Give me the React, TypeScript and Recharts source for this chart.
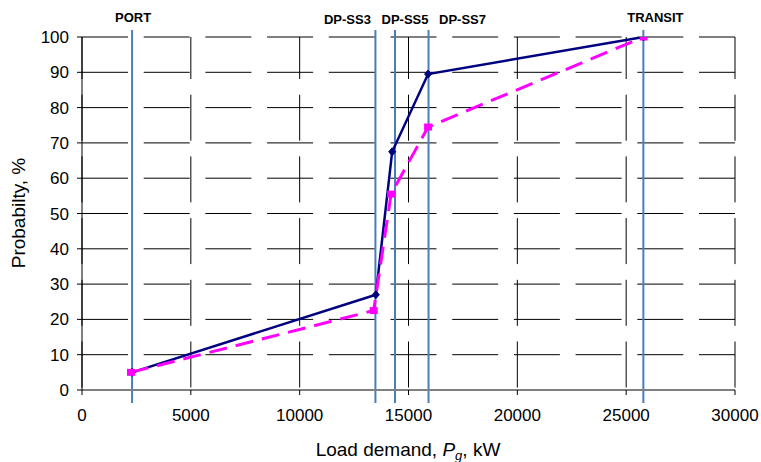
import React from 'react';
import { LineChart, Line, XAxis, YAxis, CartesianGrid, ReferenceLine } from 'recharts';

// ---- data ----
const loadKW_A = [2300, 13500, 14250, 15900, 25800];
const probability_A = [5, 27, 67.5, 89.5, 100];
const loadKW_B = [2250, 13400, 14200, 15900, 25800];
const probability_B = [5, 22.5, 55.5, 74.5, 100];
const modeNames = ['PORT', 'DP-SS3', 'DP-SS5', 'DP-SS7', 'TRANSIT'];
const modeKW = [2300, 13480, 14380, 15920, 25790];
const xTicks = [0, 5000, 10000, 15000, 20000, 25000, 30000];
const yTicks = [0, 10, 20, 30, 40, 50, 60, 70, 80, 90, 100];

const seriesA = loadKW_A.map((x, i) => ({ x, p: probability_A[i] }));
const seriesB = loadKW_B.map((x, i) => ({ x, p: probability_B[i] }));

// ---- styles ----
const FONT = '"Liberation Sans", Arial, sans-serif';
const labelDx = [1, -28, 10, 34, 12];
const labelBaseline = [22, 24, 24, 24, 22];

const Diamond = (props: any) => {
  const { cx, cy, index } = props;
  if (cx == null || cy == null) return <g key={`d${index}`} />;
  return (
    <path
      key={`d${index}`}
      d={`M${cx},${cy - 4}L${cx + 3.5},${cy}L${cx},${cy + 4}L${cx - 3.5},${cy}Z`}
      fill="#000080"
      stroke="#000080"
    />
  );
};

const Square = (props: any) => {
  const { cx, cy, index } = props;
  if (cx == null || cy == null) return <g key={`s${index}`} />;
  return <rect key={`s${index}`} x={cx - 4} y={cy - 3.5} width={8} height={7} fill="#FF00FF" />;
};

export default function App() {
  return (
    <div>
      <style>{'body{margin:0}'}</style>
      <LineChart width={761} height={462} margin={{ top: 37, right: 26, bottom: 42, left: 22 }}>
        <CartesianGrid stroke="#000" strokeWidth={1} strokeDasharray="46 15.7" vertical={false} />
        <CartesianGrid
          stroke="#000"
          strokeWidth={1}
          strokeDasharray="46 15.7"
          strokeDashoffset={4}
          horizontal={false}
        />
        <XAxis
          type="number"
          dataKey="x"
          domain={[0, 30000]}
          ticks={xTicks}
          allowDataOverflow
          height={30}
          tickSize={5}
          tickMargin={14}
          axisLine={{ stroke: '#808080', strokeWidth: 2 }}
          tickLine={{ stroke: '#000' }}
          tick={{ fill: '#000', fontSize: 17, fontFamily: FONT }}
          label={{
            content: () => (
              <text x={408} y={456} textAnchor="middle" fontSize={19} fontFamily={FONT} fill="#000">
                Load demand, <tspan fontStyle="italic">P</tspan>
                <tspan fontStyle="italic" fontSize={13} dy={4}>g</tspan>
                <tspan dy={-4}>, kW</tspan>
              </text>
            ),
          }}
        />
        <YAxis
          type="number"
          domain={[0, 100]}
          ticks={yTicks}
          allowDataOverflow
          width={60}
          tickSize={5}
          tickMargin={8}
          axisLine={{ stroke: '#000', strokeWidth: 1 }}
          tickLine={{ stroke: '#000' }}
          tick={{ fill: '#000', fontSize: 17, fontFamily: FONT }}
          label={{
            content: () => (
              <text
                x={25}
                y={213}
                transform="rotate(-90 25 213)"
                textAnchor="middle"
                fontSize={19}
                fontFamily={FONT}
                fill="#000"
              >
                Probabilty, %
              </text>
            ),
          }}
        />
        {modeKW.map((kw, i) => (
          <ReferenceLine
            key={modeNames[i]}
            segment={[
              { x: kw, y: -3.7 },
              { x: kw, y: 102 },
            ]}
            ifOverflow="visible"
            stroke="#4A7EBB"
            strokeWidth={2}
            label={(props: any) => {
              const vx = props?.viewBox?.x ?? 0;
              return (
                <text
                  x={vx + labelDx[i]}
                  y={labelBaseline[i]}
                  textAnchor="middle"
                  fontSize={13}
                  fontWeight="bold"
                  fontFamily={FONT}
                  fill="#000"
                >
                  {modeNames[i]}
                </text>
              );
            }}
          />
        ))}
        <Line
          data={seriesA}
          dataKey="p"
          type="linear"
          stroke="#000080"
          strokeWidth={2.5}
          dot={Diamond}
          activeDot={false}
          isAnimationActive={false}
        />
        <Line
          data={seriesB}
          dataKey="p"
          type="linear"
          stroke="#FF00FF"
          strokeWidth={3}
          strokeDasharray="18 9"
          dot={Square}
          activeDot={false}
          isAnimationActive={false}
        />
      </LineChart>
    </div>
  );
}
